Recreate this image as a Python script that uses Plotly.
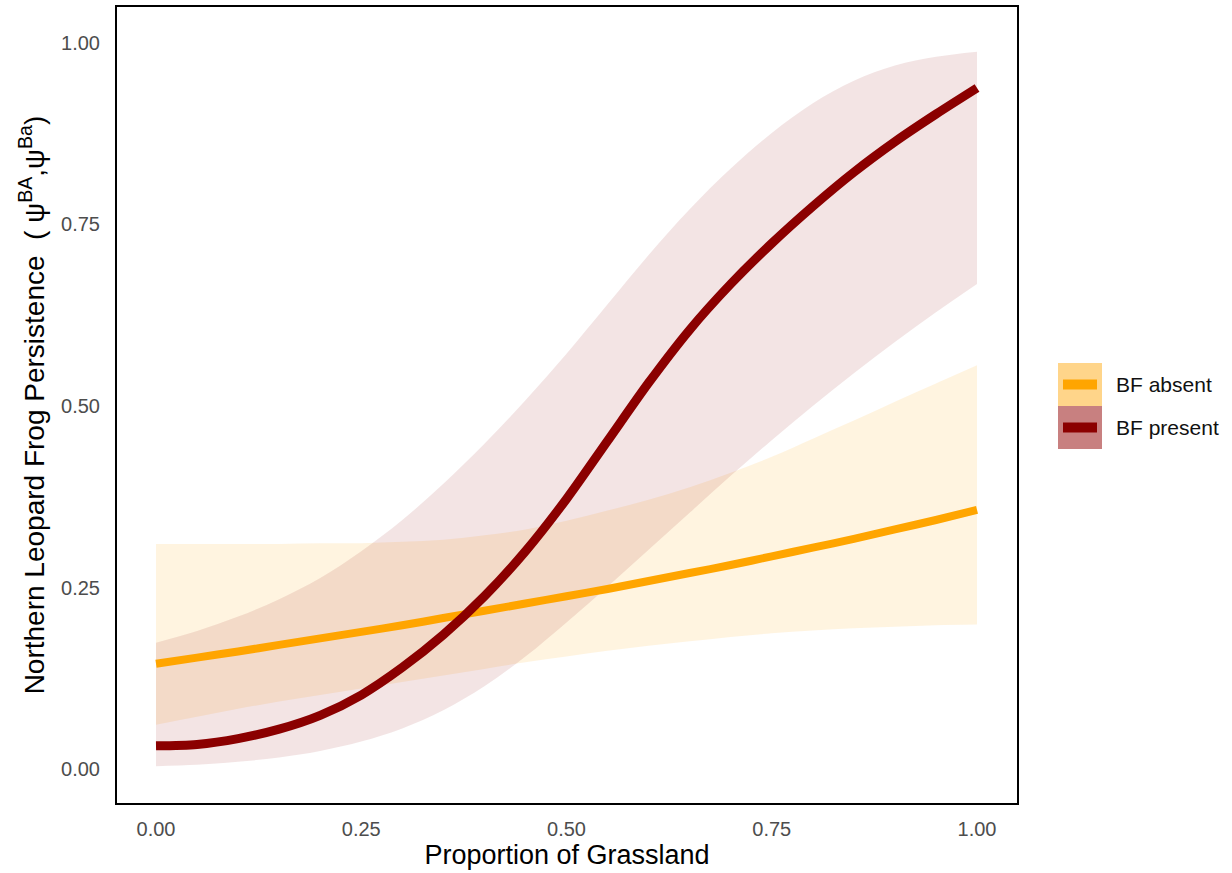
import plotly.graph_objects as go

# ---- data ----
grass = [0.00, 0.05, 0.10, 0.15, 0.20, 0.25, 0.30, 0.35, 0.40, 0.45, 0.50,
         0.55, 0.60, 0.65, 0.70, 0.75, 0.80, 0.85, 0.90, 0.95, 1.00]

present_mean = [0.032, 0.034, 0.042, 0.055, 0.074, 0.102, 0.140, 0.185, 0.238, 0.300, 0.372,
                0.452, 0.532, 0.605, 0.668, 0.724, 0.775, 0.822, 0.864, 0.902, 0.938]
present_upper = [0.174, 0.190, 0.210, 0.234, 0.263, 0.300, 0.343, 0.393, 0.448, 0.508, 0.572,
                 0.640, 0.708, 0.771, 0.827, 0.876, 0.917, 0.948, 0.969, 0.981, 0.988]
present_lower = [0.004, 0.006, 0.010, 0.016, 0.025, 0.038, 0.056, 0.081, 0.114, 0.155, 0.202,
                 0.251, 0.302, 0.353, 0.404, 0.453, 0.500, 0.545, 0.588, 0.629, 0.668]

absent_mean = [0.145, 0.1535, 0.162, 0.171, 0.180, 0.189, 0.198, 0.208, 0.218, 0.228, 0.238,
               0.248, 0.259, 0.270, 0.281, 0.293, 0.305, 0.317, 0.330, 0.343, 0.357]
absent_upper = [0.310, 0.310, 0.310, 0.310, 0.311, 0.311, 0.313, 0.316, 0.322, 0.330, 0.342,
                0.356, 0.371, 0.388, 0.408, 0.430, 0.455, 0.480, 0.506, 0.531, 0.556]
absent_lower = [0.061, 0.072, 0.083, 0.093, 0.102, 0.111, 0.120, 0.129, 0.138, 0.147, 0.155,
                0.163, 0.170, 0.176, 0.182, 0.187, 0.191, 0.194, 0.196, 0.198, 0.199]

x_ticks = [0.0, 0.25, 0.5, 0.75, 1.0]
x_tick_labels = ["0.00", "0.25", "0.50", "0.75", "1.00"]
y_ticks = [0.0, 0.25, 0.5, 0.75, 1.0]
y_tick_labels = ["0.00", "0.25", "0.50", "0.75", "1.00"]

series_names = ["BF absent", "BF present"]
ORANGE = "#FFA500"
MAROON = "#8B0000"

FONT = "Liberation Sans, Arial, sans-serif"

fig = go.Figure()

# ribbons (lower edge, then upper edge filled to it)
fig.add_trace(go.Scatter(
    x=grass, y=absent_lower, mode="lines", line=dict(width=0, shape="spline"),
    hoverinfo="skip", showlegend=False))
fig.add_trace(go.Scatter(
    x=grass, y=absent_upper, mode="lines", line=dict(width=0, shape="spline"),
    fill="tonexty", fillcolor="rgba(255,165,0,0.12)",
    hoverinfo="skip", showlegend=False))
fig.add_trace(go.Scatter(
    x=grass, y=present_lower, mode="lines", line=dict(width=0, shape="spline"),
    hoverinfo="skip", showlegend=False))
fig.add_trace(go.Scatter(
    x=grass, y=present_upper, mode="lines", line=dict(width=0, shape="spline"),
    fill="tonexty", fillcolor="rgba(139,0,0,0.105)",
    hoverinfo="skip", showlegend=False))

# lines
fig.add_trace(go.Scatter(
    x=grass, y=absent_mean, mode="lines", name=series_names[0],
    line=dict(color=ORANGE, width=8, shape="spline", smoothing=0.8), showlegend=False))
fig.add_trace(go.Scatter(
    x=grass, y=present_mean, mode="lines", name=series_names[1],
    line=dict(color=MAROON, width=9, shape="spline", smoothing=0.8), showlegend=False))

# manual legend (paper coordinates)
W, H = 1232, 873
ml, mr, mt, mb = 117, 215, 5, 70
pw, ph = W - ml - mr, H - mt - mb


def px_to_paper(px, py):
    return (px - ml) / pw, 1 - (py - mt) / ph


legend_items = [
    (series_names[0], "rgb(255,213,138)", ORANGE, 362, 405),
    (series_names[1], "rgb(200,128,128)", MAROON, 405, 448),
]
for name, boxc, linec, y0, y1 in legend_items:
    bx0, by0 = px_to_paper(1058, y1)
    bx1, by1 = px_to_paper(1102, y0)
    fig.add_shape(type="rect", xref="paper", yref="paper",
                  x0=bx0, x1=bx1, y0=by0, y1=by1,
                  fillcolor=boxc, line=dict(width=0), layer="above")
    yc = (y0 + y1) / 2
    lx0, ly0 = px_to_paper(1063, yc + 5)
    lx1, ly1 = px_to_paper(1097, yc - 5)
    fig.add_shape(type="rect", xref="paper", yref="paper",
                  x0=lx0, x1=lx1, y0=ly0, y1=ly1,
                  fillcolor=linec, line=dict(width=0), layer="above")
    tx, ty = px_to_paper(1114, yc)
    fig.add_annotation(x=tx, y=ty, xref="paper", yref="paper", text=name,
                       showarrow=False, xanchor="left", yanchor="middle",
                       font=dict(family=FONT, size=21, color="#111111"))

fig.update_layout(
    width=W, height=H,
    margin=dict(l=ml, r=mr, t=mt, b=mb, pad=0),
    paper_bgcolor="white", plot_bgcolor="white",
    showlegend=False,
    font=dict(family=FONT),
    xaxis=dict(
        range=[-0.0475, 1.0487], tickvals=x_ticks, ticktext=x_tick_labels,
        showgrid=False, zeroline=False, showline=True, mirror=True,
        linecolor="black", linewidth=2,
        ticks="outside", ticklen=7, tickcolor="rgba(0,0,0,0)",
        tickfont=dict(family=FONT, size=20, color="#4D4D4D"),
        title=dict(text="Proportion of Grassland", standoff=4,
                   font=dict(family=FONT, size=27, color="black")),
    ),
    yaxis=dict(
        range=[-0.0467, 1.0495], tickvals=y_ticks, ticktext=y_tick_labels,
        showgrid=False, zeroline=False, showline=True, mirror=True,
        linecolor="black", linewidth=2,
        ticks="outside", ticklen=11, tickcolor="rgba(0,0,0,0)",
        tickfont=dict(family=FONT, size=20, color="#4D4D4D"),
        title=dict(text="Northern Leopard Frog Persistence\u00a0\u00a0( \u03c8<sup>BA</sup>,\u03c8<sup>Ba</sup>)",
                   standoff=8,
                   font=dict(family=FONT, size=28, color="black")),
    ),
)

fig.write_html("out.html")
